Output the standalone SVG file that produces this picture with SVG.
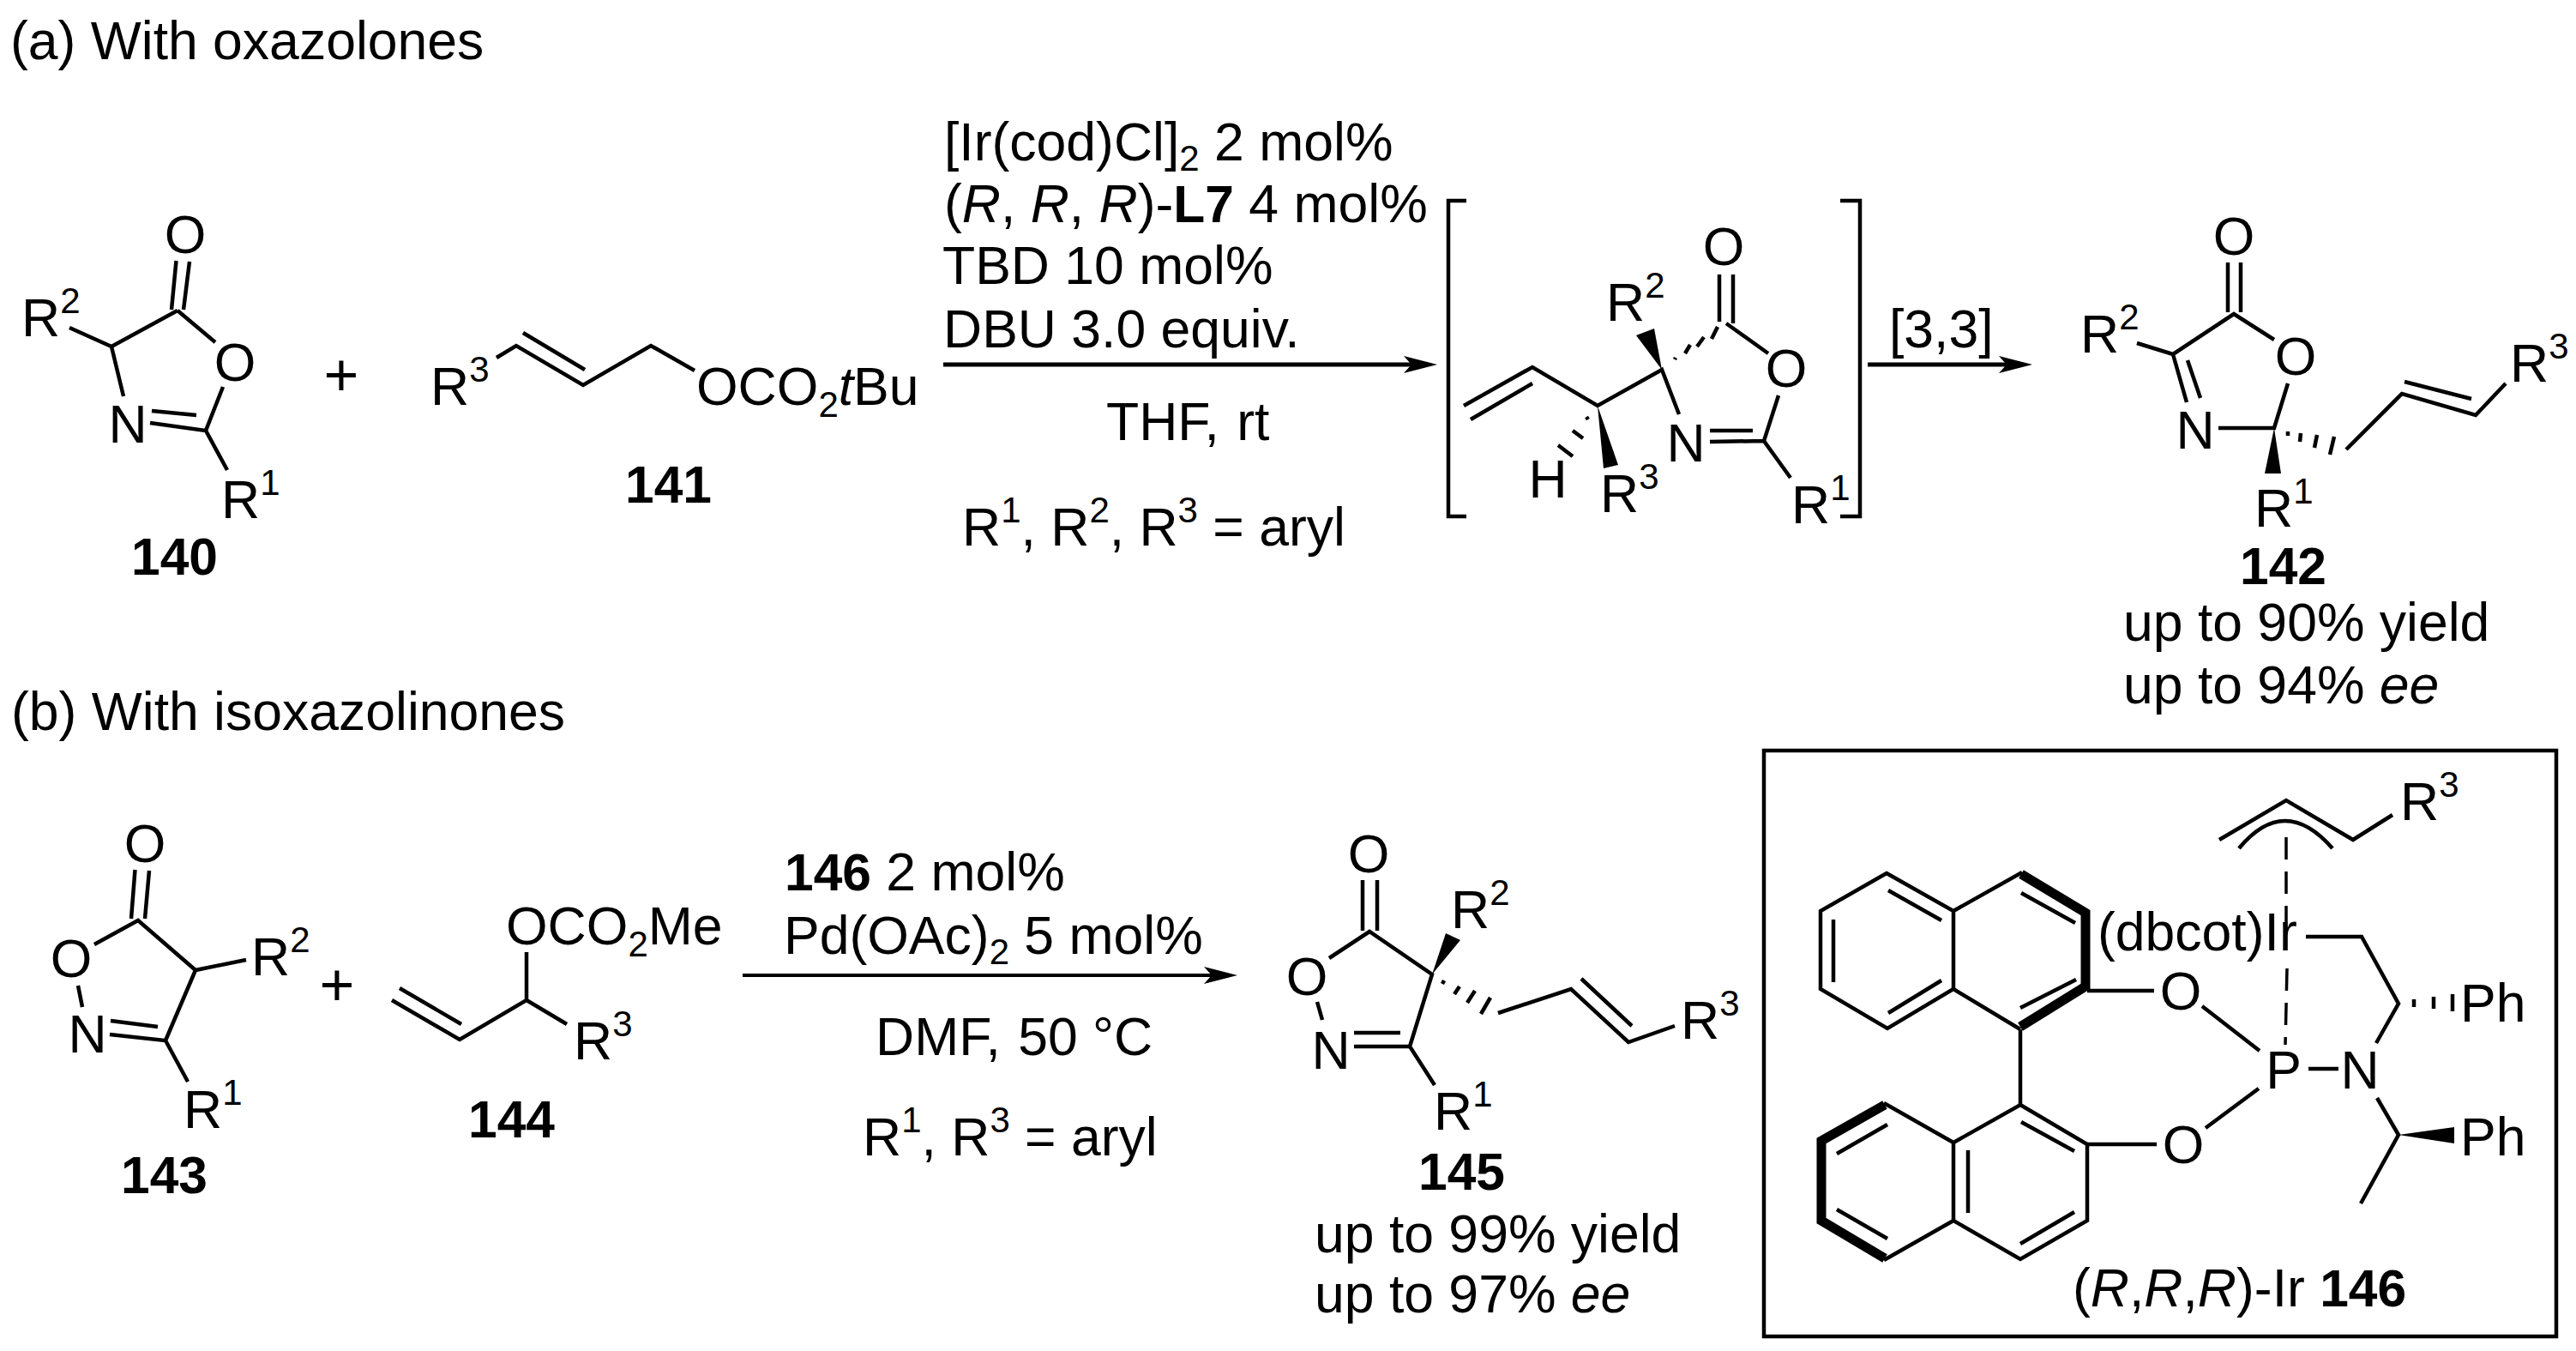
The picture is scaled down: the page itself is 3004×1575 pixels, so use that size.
<svg xmlns="http://www.w3.org/2000/svg" width="3004" height="1575" viewBox="0 0 3004 1575">
<style>
text{font-family:"Liberation Sans",Arial,sans-serif;font-size:62.5px;fill:#000}
.b{font-weight:bold;font-size:60.5px}
.i{font-style:italic}
.s{font-size:42px}
.a{text-anchor:middle}
.bond{fill:none;stroke:#000;stroke-width:4.500}
.hv{fill:none;stroke:#000;stroke-width:11;stroke-linejoin:miter;stroke-linecap:butt}
.fw{fill:#000;stroke:none}
.arr{fill:none;stroke:#000;stroke-width:5}
.pl{font-size:70px;text-anchor:middle}
</style>
<defs>
<marker id="head" markerUnits="userSpaceOnUse" markerWidth="40" markerHeight="22" refX="9" refY="11" orient="auto"><path d="M39,11 L0,1 L9,11 L0,21 Z" fill="#000"/></marker>
</defs>
<rect width="3004" height="1575" fill="#fff"/>
<text id="title-a" x="12" y="69">(a) With oxazolones</text>
<text id="title-b" x="13" y="851">(b) With isoxazolinones</text>

<g id="connectors">
<path class="arr" d="M1100,425H1646" marker-end="url(#head)"/>
<path class="arr" d="M2178,425H2340" marker-end="url(#head)"/>
<path class="arr" style="stroke-width:4" d="M866,1137H1413" marker-end="url(#head)"/>
</g>

<g id="c140">
<path class="bond" d="M205.500,304L200,361M221,305L214,361M207,362L251,399M207,362L130,404L81,382M130,404L144,462M175,493L240,502L265,548M177,479L229,484M240,502L260,451"/>
<text class="a" x="216" y="295">O</text><text class="a" x="274" y="444">O</text><text class="a" x="149" y="516">N</text>
<text x="25" y="392">R<tspan class="s" dy="-27">2</tspan></text>
<text x="258" y="604">R<tspan class="s" dy="-27">1</tspan></text>
<text class="b" x="153" y="670">140</text>
</g>
<text id="plus-a" class="pl" x="398" y="461">+</text>

<g id="c141">
<path class="bond" d="M579,417L602,403L680,449L759,403L810,432M610,388L682,431"/>
<text x="502" y="472">R<tspan class="s" dy="-27">3</tspan></text>
<text x="812" y="472">OCO<tspan class="s" dy="14">2</tspan><tspan class="i" dy="-14">t</tspan>Bu</text>
<text class="b" x="729" y="586">141</text>
</g>

<g id="conditions-a">
<text x="1101" y="187">[Ir(cod)Cl]<tspan class="s" dy="12">2</tspan><tspan dy="-12"> 2 mol%</tspan></text>
<text x="1101" y="259">(<tspan class="i">R</tspan>, <tspan class="i">R</tspan>, <tspan class="i">R</tspan>)-<tspan class="b">L7</tspan> 4 mol%</text>
<text x="1099" y="331">TBD 10 mol%</text>
<text x="1100" y="405">DBU 3.0 equiv.</text>
<text x="1290" y="513">THF,<tspan dx="3"> rt</tspan></text>
<text x="1122" y="636">R<tspan class="s" dy="-27">1</tspan><tspan dy="27">, R</tspan><tspan class="s" dy="-27">2</tspan><tspan dy="27">, R</tspan><tspan class="s" dy="-27">3</tspan><tspan dy="27"> = aryl</tspan></text>
</g>

<g id="intermediate">
<path class="bond" style="stroke-width:4.500" d="M1710,234H1689V602H1710M2146,234H2169V602H2146"/>
<path class="bond" d="M1707,473L1787,428L1863,473L1938,431L1958,483M1715,489L1787,447M2005,320V375M2021,320V377M2013,377L2062,412M2074,461L2057,514L2088,557M1994,502H2044M1994,515L2057,514"/>
<path class="fw" d="M1938,431L1908,391L1929,383Z"/>
<path class="fw" d="M1863,473L1870,546L1887,542Z"/>
<path class="bond" d="M1954,417l-1,2M1971,402l-6,10M1987,393l-8,11M2003,381l-7,14M1850,486l2,3M1834,502l12,9M1817,519l17,13"/>
<text class="a" x="2010" y="309">O</text><text class="a" x="2083" y="451">O</text><text class="a" x="1966" y="538">N</text><text class="a" x="1805" y="580">H</text>
<text x="1873" y="374">R<tspan class="s" dy="-27">2</tspan></text>
<text x="1866" y="597">R<tspan class="s" dy="-27">3</tspan></text>
<text x="2089" y="610">R<tspan class="s" dy="-27">1</tspan></text>
</g>
<text id="label-33" x="2203" y="405">[3,3]</text>

<g id="c142">
<path class="bond" d="M2598,306V364M2613,306V364M2652,396L2605,366L2534,413L2492,400M2534,413L2550,469M2551,420L2566,464M2587,499H2652L2668,447M2736,524L2801,459L2887,484L2922,447M2804,445L2882,465"/>
<path class="fw" d="M2652,499L2641,552H2660Z"/>
<path class="bond" d="M2668,503v5M2683,505l-1,10M2702,507l-3,15M2722,509l-5,21"/>
<text class="a" x="2605" y="297">O</text><text class="a" x="2677" y="437">O</text><text class="a" x="2560" y="523">N</text>
<text x="2426" y="411">R<tspan class="s" dy="-27">2</tspan></text>
<text x="2927" y="445">R<tspan class="s" dy="-27">3</tspan></text>
<text x="2629" y="614">R<tspan class="s" dy="-27">1</tspan></text>
<text class="b" x="2612" y="681">142</text>
<text x="2476" y="747">up to 90% yield</text>
<text x="2476" y="820">up to 94% <tspan class="i">ee</tspan></text>
</g>

<g id="c143">
<path class="bond" d="M157.500,1014L153,1071M174,1015L169,1071M110,1101L161,1073L228,1131L287,1119M91,1149L96,1174M128,1206L193,1213L219,1261M129,1190L184,1197M193,1213L228,1131"/>
<text class="a" x="169" y="1005">O</text><text class="a" x="83" y="1139">O</text><text class="a" x="102" y="1227">N</text>
<text x="293" y="1137">R<tspan class="s" dy="-27">2</tspan></text>
<text x="214" y="1315">R<tspan class="s" dy="-27">1</tspan></text>
<text class="b" x="141" y="1391">143</text>
</g>
<text id="plus-b" class="pl" x="393" y="1172">+</text>

<g id="c144">
<path class="bond" d="M457,1166L536,1212L614,1166V1110M614,1166L661,1194M466,1152L538,1194"/>
<text x="590" y="1101">OCO<tspan class="s" dy="14">2</tspan><tspan dy="-14">Me</tspan></text>
<text x="669" y="1235">R<tspan class="s" dy="-27">3</tspan></text>
<text class="b" x="546" y="1326">144</text>
</g>

<g id="conditions-b">
<text x="915" y="1038"><tspan class="b">146</tspan> 2 mol%</text>
<text x="914" y="1112">Pd(OAc)<tspan class="s" dy="12">2</tspan><tspan dy="-12"> 5 mol%</tspan></text>
<text x="1021" y="1230">DMF,<tspan dx="3"> 50 °C</tspan></text>
<text x="1006" y="1347">R<tspan class="s" dy="-27">1</tspan><tspan dy="27">, R</tspan><tspan class="s" dy="-27">3</tspan><tspan dy="27"> = aryl</tspan></text>
</g>

<g id="c145">
<path class="bond" d="M1589,1026V1085M1606,1026V1085M1550,1117L1597,1086L1670,1136L1644,1220L1673,1265M1536,1168L1542,1189M1579,1220H1644M1579,1204H1633M1747,1181L1832,1153L1899,1215L1953,1196M1844,1141L1903,1196"/>
<path class="fw" d="M1670,1136L1686,1088L1703,1096Z"/>
<path class="bond" d="M1684,1143l-2,4M1702,1150l-6,9M1720,1155l-9,14M1738,1163l-11,19"/>
<text class="a" x="1596" y="1017">O</text><text class="a" x="1524" y="1160">O</text><text class="a" x="1552" y="1246">N</text>
<text x="1692" y="1082">R<tspan class="s" dy="-27">2</tspan></text>
<text x="1960" y="1211">R<tspan class="s" dy="-27">3</tspan></text>
<text x="1672" y="1317">R<tspan class="s" dy="-27">1</tspan></text>
<text class="b" x="1654" y="1387">145</text>
<text x="1533" y="1460">up to 99% yield</text>
<text x="1533" y="1530">up to 97% <tspan class="i">ee</tspan></text>
</g>

<g id="c146">
<rect x="2057" y="875" width="924" height="683" fill="none" stroke="#000" stroke-width="4.500"/>
<path class="bond" d="M2200,1018L2278,1062V1153L2201,1199L2123,1153V1062ZM2278,1062L2358,1017M2356,1200L2278,1153M2138,1072V1145M2202,1038L2264,1073M2202,1181L2264,1143M2357,1041L2420,1076M2356,1175L2421,1142"/>
<path class="hv" d="M2357,1019L2432,1064V1150L2356,1197"/>
<path class="bond" d="M2434,1155H2512M2568,1173L2635,1225M2692,1246H2727M2771,1216L2797,1170L2754,1092H2689M2356,1200V1288M2772,1280L2797,1323L2753,1403M2572,1315L2634,1269M2434,1334H2515"/>
<path class="bond" d="M2356,1288L2434,1334V1423L2356,1468L2278,1423V1332ZM2357,1308L2419,1342M2356,1450L2419,1413M2295,1341V1414M2278,1332L2197,1286M2278,1423L2197,1469M2201,1311L2142,1345M2201,1444L2142,1410"/>
<path class="hv" d="M2198,1288L2124,1330V1423L2198,1467"/>
<path class="fw" d="M2797,1323L2862,1314V1333Z"/>
<path class="bond" d="M2815,1165v9M2838,1162v14M2860,1159v20"/>
<path class="bond" d="M2588,979L2666,933L2744,979L2790,950M2611,989Q2664,925 2720,989"/>
<path class="bond" style="stroke-width:3.500" stroke-dasharray="26 14" d="M2666,976V1083M2667,1129L2665,1218"/>
<text class="a" x="2663" y="1269">P</text><text class="a" x="2752" y="1269">N</text>
<text class="a" x="2543" y="1177">O</text><text class="a" x="2546" y="1356">O</text>
<text x="2799" y="956">R<tspan class="s" dy="-27">3</tspan></text>
<text x="2446" y="1108">(dbcot)Ir</text>
<text x="2869" y="1191">Ph</text><text x="2869" y="1347">Ph</text>
<text x="2417" y="1523">(<tspan class="i">R</tspan>,<tspan class="i">R</tspan>,<tspan class="i">R</tspan>)-Ir <tspan class="b">146</tspan></text>
</g>
</svg>
